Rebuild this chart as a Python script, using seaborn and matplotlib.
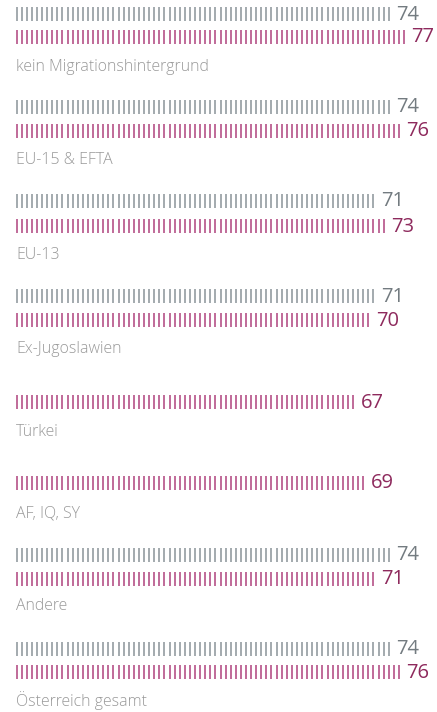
import matplotlib
matplotlib.use("Agg")
import matplotlib.pyplot as plt
import seaborn as sns
import pandas as pd
import numpy as np

labels = ["kein Migrationshintergrund", "EU-15 & EFTA", "EU-13", "Ex-Jugoslawien",
          "Türkei", "AF, IQ, SY", "Andere", "Österreich gesamt"]
grau = [74, 74, 71, 71, None, None, 74, 74]
magenta = [77, 76, 73, 70, 67, 69, 71, 76]

# layout (pixel rows)
y_grau = [14, 107, 201, 296, None, None, 555, 649]
y_mag = [37, 131, 226, 320, 402, 483, 579, 672]
y_lab = [67, 160, 255, 349, 432, 513, 606, 701]

C_GRAU = "#8f979c"
C_MAG = "#b24a82"
C_GRAU_T = "#737b80"
C_MAG_T = "#8e2a5d"
C_LAB = "#999999"

sns.set_theme(style="white")
plt.rcParams['font.family'] = ['Open Sans', 'DejaVu Sans']

rows = []
for i in range(len(labels)):
    if grau[i] is not None:
        for k in range(1, grau[i] + 1):
            rows.append({"x": k, "y": y_grau[i], "s": "grau"})
    for k in range(1, magenta[i] + 1):
        rows.append({"x": k, "y": y_mag[i], "s": "magenta"})
df = pd.DataFrame(rows)

fig = plt.figure(figsize=(4.37, 7.12), dpi=100)
ax = fig.add_axes([0, 0, 1, 1])
step = 5.1
x0 = 1 - 16.5 / step
x1 = 1 + (437 - 16.5) / step
sns.scatterplot(data=df, x="x", y="y", hue="s", palette={"grau": C_GRAU, "magenta": C_MAG},
                marker="|", s=9.6 ** 2, linewidth=1.15, legend=False, ax=ax)
ax.set_xlim(x0, x1)
ax.set_ylim(712, 0)
ax.axis("off")

for i in range(len(labels)):
    if grau[i] is not None:
        ax.text(grau[i] + 1.45, y_grau[i] + 0.5, str(grau[i]), color=C_GRAU_T, fontsize=14.5,
                va="center", ha="left")
    ax.text(magenta[i] + 1.45, y_mag[i] + 0.5, str(magenta[i]), color=C_MAG_T, fontsize=14.5,
            va="center", ha="left")
    ax.text(x0 + 16 / step, y_lab[i], labels[i], color=C_LAB, fontsize=11.4, fontweight="light",
            va="center", ha="left")

fig.savefig("out.png", dpi=100)
